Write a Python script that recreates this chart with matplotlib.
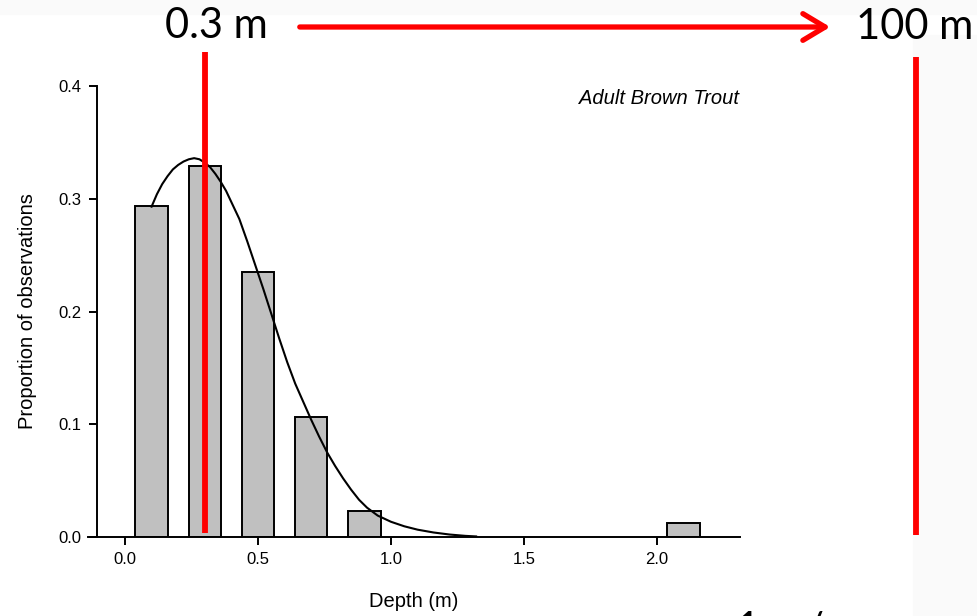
import numpy as np
import matplotlib.pyplot as plt
from matplotlib.patches import Rectangle, FancyArrowPatch

# depth histogram (proportion of observations per 0.2 m bin)
bin_centers = [0.1, 0.3, 0.5, 0.7, 0.9, 2.1]
proportions = [0.294, 0.329, 0.235, 0.106, 0.023, 0.012]

# fitted curve
curve_depth = [0.10, 0.12, 0.14, 0.16, 0.18, 0.20, 0.22, 0.24, 0.26, 0.28, 0.30,
               0.32, 0.34, 0.36, 0.38, 0.40, 0.43, 0.46, 0.49, 0.52, 0.55, 0.58,
               0.61, 0.64, 0.67, 0.70, 0.73, 0.76, 0.79, 0.82, 0.85, 0.88, 0.91,
               0.95, 1.00, 1.05, 1.10, 1.16, 1.22, 1.28, 1.32]
curve_prop = [0.293, 0.304, 0.313, 0.320, 0.326, 0.330, 0.333, 0.335, 0.336, 0.335, 0.332,
              0.328, 0.322, 0.315, 0.307, 0.297, 0.282, 0.262, 0.241, 0.220, 0.198, 0.176,
              0.155, 0.136, 0.120, 0.104, 0.089, 0.075, 0.063, 0.052, 0.042, 0.033, 0.026,
              0.019, 0.0135, 0.0095, 0.0065, 0.0040, 0.0022, 0.0010, 0.0005]

xticks = [0.0, 0.5, 1.0, 1.5, 2.0]
yticks = [0.0, 0.1, 0.2, 0.3, 0.4]
marker_labels = ['0.3 m', '100 m']
marker_depth = 0.3

plt.rcParams['font.family'] = ['Liberation Sans', 'DejaVu Sans']

fig = plt.figure(figsize=(9.78, 6.16), dpi=100)

# faint slide background texture
fig.patches.append(Rectangle((913 / 978, 0), 1 - 913 / 978, 1 - 35 / 616,
                             transform=fig.transFigure, color='#fafafa', zorder=0))
fig.patches.append(Rectangle((0, 1 - 14 / 616), 1, 14 / 616,
                             transform=fig.transFigure, color='#fafafa', zorder=0))

ax = fig.add_axes([88 / 978, 79 / 616, 652 / 978, 451 / 616])
ax.patch.set_alpha(0)

ax.bar(bin_centers, proportions, width=0.122, color='#c0c0c0',
       edgecolor='black', linewidth=1.4, zorder=2)
ax.plot(curve_depth, curve_prop, color='black', linewidth=1.5, zorder=3)

ax.set_xlim(-0.139, 2.312)
ax.set_ylim(0, 0.4)
ax.spines['top'].set_visible(False)
ax.spines['right'].set_visible(False)
ax.spines['left'].set_position(('data', -0.105))
for s in ('left', 'bottom'):
    ax.spines[s].set_linewidth(1.4)

ax.set_xticks(xticks)
ax.set_xticklabels([f'{v:.1f}' for v in xticks])
ax.set_yticks(yticks)
ax.set_yticklabels([f'{v:.1f}' for v in yticks])
ax.tick_params(direction='out', length=6, width=1.4, labelsize=12, pad=5, colors='black')

ax.set_xlabel('Depth (m)', fontsize=14.5)
ax.set_ylabel('Proportion of observations', fontsize=14.5)
ax.xaxis.set_label_coords(0.5, -0.122)
ax.yaxis.set_label_coords(-0.078, 0.5)

ax.text(0.998, 0.973, 'Adult Brown Trout', transform=ax.transAxes,
        ha='right', va='center', fontsize=14.5, style='italic')

# red depth markers
ax.plot([marker_depth, marker_depth], [0.0035, 0.43], color='#ff0000',
        linewidth=4.2, clip_on=False, zorder=4, solid_capstyle='butt')
fig.add_artist(plt.Line2D([916 / 978, 916 / 978], [1 - 535 / 616, 1 - 57 / 616],
                          color='#ff0000', linewidth=4.2, solid_capstyle='butt'))

fig.text(216 / 978, 1 - 26 / 616, marker_labels[0], fontsize=30, family='Lato',
         ha='center', va='center')
fig.text(915 / 978, 1 - 27 / 616, marker_labels[1], fontsize=30, family='Lato',
         ha='center', va='center')
fig.patches.append(FancyArrowPatch(
    (297 / 978, 1 - 27 / 616), (833 / 978, 1 - 27 / 616), transform=fig.transFigure,
    arrowstyle='->,head_length=10,head_width=6', color='#ff0000', linewidth=3.8,
    mutation_scale=1.6))

# text cut off at the slide's bottom edge
fig.text(736 / 978, 1 - 611 / 616, '1 m/s', fontsize=30, family='Lato',
         ha='left', va='top')

fig.savefig('out.png', dpi=100)
